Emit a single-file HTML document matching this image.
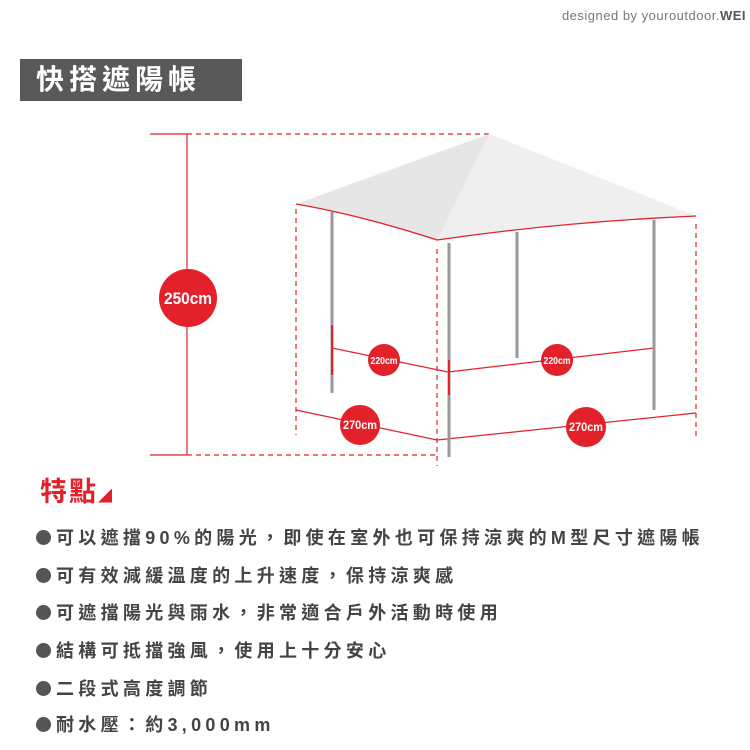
<!DOCTYPE html>
<html><head><meta charset="utf-8"><style>
body{margin:0;width:750px;height:750px;background:#fff;position:relative;overflow:hidden;font-family:"Liberation Sans","Noto Sans CJK TC",sans-serif}
.sig{position:absolute;right:4px;top:8px;font-size:13px;color:#777;letter-spacing:.5px}
.sig b{color:#555;font-weight:bold}
.title{position:absolute;left:20px;top:59px;width:222px;height:42px;background:#595959;color:#fff;font-size:28px;line-height:42px;letter-spacing:5px;padding-left:16px;box-sizing:border-box;font-weight:bold}
.feat{position:absolute;left:40px;top:470px;color:#e3212a;font-size:27px;font-weight:bold;letter-spacing:2px}
.li{position:absolute;left:36px;font-size:18px;font-weight:bold;color:#444;letter-spacing:4.3px;white-space:nowrap}
.li:before{content:"";display:inline-block;width:15px;height:15px;border-radius:50%;background:#555;margin-right:5px;vertical-align:-1px}
</style></head><body>
<div class="sig">designed by youroutdoor.<b>WEI</b></div>
<div class="title">快搭遮陽帳</div>
<svg width="750" height="750" style="position:absolute;left:0;top:0">
<g stroke="#e3212a" stroke-width="1.2" fill="none">
<line x1="150" y1="134" x2="187" y2="134"/><line x1="187" y1="134" x2="489" y2="134" stroke-dasharray="5,4"/>
<line x1="150" y1="455" x2="187" y2="455"/><line x1="187" y1="455" x2="437" y2="455" stroke-dasharray="5,4"/>
<line x1="187" y1="134" x2="187" y2="455"/>
<line x1="296" y1="209" x2="296" y2="435" stroke-dasharray="5,4"/>
<line x1="437" y1="249" x2="437" y2="466" stroke-dasharray="5,4"/>
<line x1="696" y1="224" x2="696" y2="439" stroke-dasharray="5,4"/>
<polyline points="332,348 448,372 654,348"/>
<polyline points="296,410 437,440 696,413"/>
</g>
<path d="M489,134 L296,204 Q360,215 437,240 Q560,222 696,216 Z" fill="#e6e6e6"/>
<path d="M489,134 L437,240 Q560,222 696,216 Z" fill="#efefef"/>
<path d="M296,204 Q360,215 437,240 Q560,222 696,216" stroke="#e3212a" stroke-width="1.3" fill="none"/>
<g stroke="#999" stroke-width="3">
<line x1="332" y1="212" x2="332" y2="393"/>
<line x1="449" y1="243" x2="449" y2="457"/>
<line x1="517" y1="232" x2="517" y2="358"/>
<line x1="654" y1="220" x2="654" y2="410"/>
</g>
<g stroke="#e3212a" stroke-width="2">
<line x1="332" y1="325" x2="332" y2="375"/>
<line x1="449" y1="360" x2="449" y2="395"/>
</g>
<g fill="#e3212a">
<circle cx="188" cy="298" r="29"/>
<circle cx="384" cy="360" r="16"/>
<circle cx="557" cy="360" r="16"/>
<circle cx="360" cy="425" r="20"/>
<circle cx="586" cy="427" r="20"/>
</g>
<g fill="#fff" font-family="Liberation Sans,sans-serif" font-weight="bold" text-anchor="middle">
<text x="188" y="304" font-size="17" textLength="48" lengthAdjust="spacingAndGlyphs">250cm</text>
<text x="384" y="364" font-size="10" textLength="27" lengthAdjust="spacingAndGlyphs">220cm</text>
<text x="557" y="364" font-size="10" textLength="27" lengthAdjust="spacingAndGlyphs">220cm</text>
<text x="360" y="429" font-size="12" textLength="34" lengthAdjust="spacingAndGlyphs">270cm</text>
<text x="586" y="431" font-size="12" textLength="34" lengthAdjust="spacingAndGlyphs">270cm</text>
</g>
</svg>
<div class="feat">特點<span style="font-size:14px">◢</span></div>
<div class="li" style="top:524px">可以遮擋90%的陽光，即使在室外也可保持涼爽的M型尺寸遮陽帳</div>
<div class="li" style="top:562px">可有效減緩溫度的上升速度，保持涼爽感</div>
<div class="li" style="top:599px">可遮擋陽光與雨水，非常適合戶外活動時使用</div>
<div class="li" style="top:637px">結構可抵擋強風，使用上十分安心</div>
<div class="li" style="top:675px">二段式高度調節</div>
<div class="li" style="top:711px">耐水壓：約3,000mm</div>
</body></html>
